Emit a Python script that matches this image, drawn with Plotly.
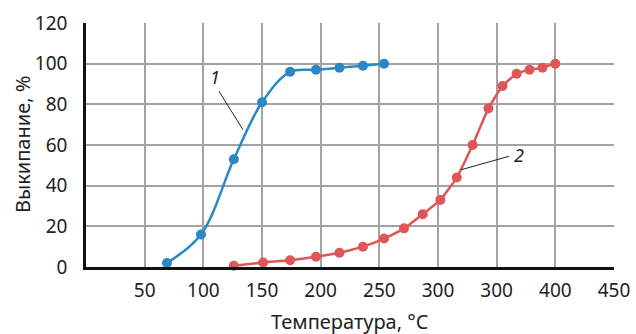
import plotly.graph_objects as go

# Data
x1 = [69, 98, 126, 150, 174, 196, 216, 236, 254]
y1 = [2, 16, 53, 81, 96, 97, 98, 99, 100]
x2 = [126, 151, 174, 196, 216, 236, 254, 271, 287, 302, 316, 329.5, 343, 355, 367, 378, 389, 400]
y2 = [0.6, 2.2, 3.3, 5, 7, 10, 14, 19, 26, 33, 44, 60, 78, 89, 95, 97, 98, 100]
x_tickvals = [50, 100, 150, 200, 250, 300, 350, 400, 450]
x_ticktext = ["50", "100", "150", "200", "250", "300", "300", "400", "450"]
y_tickvals = [0, 20, 40, 60, 80, 100, 120]
x_title = "Температура, °C"
y_title = "Выкипание, %"

FONT = "Noto Sans"
blue = "#2b87c6"
red = "#e05656"

fig = go.Figure()
fig.add_trace(go.Scatter(x=x1, y=y1, mode="lines+markers",
                         line=dict(color=blue, width=2.5, shape="spline", smoothing=1.0),
                         marker=dict(color=blue, size=10), cliponaxis=False))
fig.add_trace(go.Scatter(x=x2, y=y2, mode="lines+markers",
                         line=dict(color=red, width=2.5, shape="spline", smoothing=0.5),
                         marker=dict(color=red, size=10), cliponaxis=False))

# leader lines and labels
fig.add_annotation(x=133.8, y=67.5, ax=112.5, ay=87.2, xref="x", yref="y", axref="x", ayref="y",
                   text="", showarrow=True, arrowhead=0, arrowwidth=1, arrowcolor="#222")
fig.add_annotation(x=110, y=93.5, text="<i>1</i>", showarrow=False,
                   font=dict(family=FONT, size=18, color="#222"))
fig.add_annotation(x=319.6, y=47.8, ax=362, ay=54.7, xref="x", yref="y", axref="x", ayref="y",
                   text="", showarrow=True, arrowhead=0, arrowwidth=1, arrowcolor="#222")
fig.add_annotation(x=369, y=55, text="<i>2</i>", showarrow=False,
                   font=dict(family=FONT, size=18, color="#222"))

# axis titles
fig.add_annotation(x=0.5, y=0, xref="paper", yref="paper", yanchor="middle", yshift=-54,
                   text=x_title, showarrow=False, font=dict(family=FONT, size=20, color="#222"))
fig.add_annotation(x=0, y=0.5, xref="paper", yref="paper", xanchor="center", xshift=-64,
                   textangle=-90, text=y_title, showarrow=False,
                   font=dict(family=FONT, size=20, color="#222"))

fig.update_layout(
    width=636, height=334,
    margin=dict(l=86, r=22, t=23, b=67),
    paper_bgcolor="white", plot_bgcolor="white",
    showlegend=False,
    font=dict(family=FONT, size=19, color="#222"),
    xaxis=dict(range=[0, 450], tickvals=x_tickvals, ticktext=x_ticktext, automargin=False,
               showgrid=True, gridcolor="#a3a3a3", gridwidth=1.5,
               showline=True, linecolor="#111", linewidth=2.5, zeroline=False,
               ticks="", ticklabelstandoff=4),
    yaxis=dict(range=[0, 120], tickvals=y_tickvals, automargin=False,
               showgrid=True, gridcolor="#a3a3a3", gridwidth=1.5,
               showline=True, linecolor="#111", linewidth=2.5, zeroline=False,
               ticks="", ticklabelstandoff=12),
)

fig.write_html("out.html")
